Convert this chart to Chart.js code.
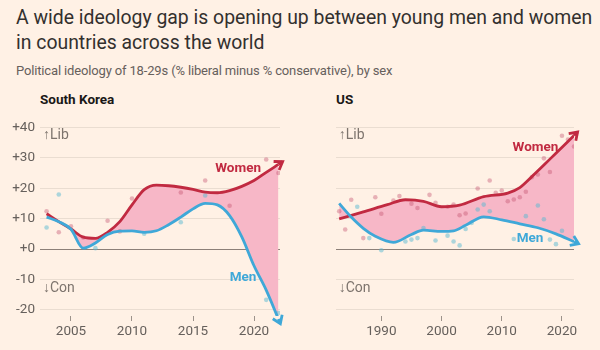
<!DOCTYPE html>
<html>
<head>
<meta charset="utf-8">
<script src="https://cdn.jsdelivr.net/npm/chart.js@4.4.1/dist/chart.umd.min.js"></script>
<style>
    body { margin: 0; background: #fff1e5; width: 600px; height: 350px; overflow: hidden; position: relative; font-family: Roboto, sans-serif; }
    .titulo { position: absolute; left: 16px; top: 5px; font-size: 19.4px; line-height: 25px; color: #33302e; white-space: nowrap; }
    .sub { position: absolute; left: 16px; top: 63px; font-size: 13px; letter-spacing: -0.15px; color: #66605c; white-space: nowrap; }
    .painel { position: absolute; top: 110px; width: 300px; height: 235px; }
    .nome { position: absolute; top: 91px; font-size: 13.5px; font-weight: bold; color: #1a1817; }
</style>
</head>
<body>
<div class="titulo">A wide ideology gap is opening up between young men and women<br>in countries across the world</div>
<div class="sub">Political ideology of 18-29s (% liberal minus % conservative), by sex</div>
<div class="nome" style="left:40px">South Korea</div>
<div class="nome" style="left:336px">US</div>
<div class="painel" style="left:0"><canvas id="graficoKr"></canvas></div>
<div class="painel" style="left:300px"><canvas id="graficoUs"></canvas></div>

<script>
// eixo y comum
const yTicks = [-20, -10, 0, 10, 20, 30, 40];

// Coreia do Sul
const krTicks = [2005, 2010, 2015, 2020];
const krLineYears = [2003, 2004, 2005, 2006, 2007, 2008, 2009, 2010, 2011, 2012, 2013, 2014, 2015, 2016, 2017, 2018, 2019, 2020, 2021, 2022];
const krWomenLine = [11.6, 9.0, 6.6, 3.9, 3.5, 5.5, 9.0, 14.5, 19.5, 21.0, 20.8, 20.3, 19.6, 18.7, 18.5, 19.2, 20.6, 22.5, 25.2, 27.8];
const krMenLine = [10.5, 9.0, 6.5, 0.3, 2.0, 4.8, 5.9, 6.0, 5.5, 6.0, 8.0, 10.5, 13.2, 15.0, 14.5, 11.0, 4.0, -5.5, -13.5, -23.0];
const krWomenDotYears = [2003, 2004, 2005, 2006, 2008, 2009, 2010, 2014, 2016, 2018, 2021, 2022];
const krWomenDots = [12.4, 5.5, 7.5, 3.8, 9.3, 5.8, 16.6, 18.6, 22.5, 14.2, 29.4, 25.0];
const krMenDotYears = [2003, 2004, 2007, 2011, 2014, 2016, 2021, 2022];
const krMenDots = [7.1, 17.9, 0.3, 5.0, 8.8, 17.6, -16.7, -21.0];

// EUA
const usTicks = [1990, 2000, 2010, 2020];
const usWomenLineYears = [1983, 1987, 1991, 1994, 1997, 2000, 2003, 2007, 2011, 2013, 2015, 2017, 2019, 2022];
const usWomenLine = [9.9, 12.2, 14.6, 16.2, 15.7, 13.9, 14.4, 17.2, 18.4, 20.2, 23.8, 27.6, 31.5, 37.3];
const usMenLineYears = [1983, 1985, 1987, 1989, 1992, 1995, 1997, 2000, 2002, 2004, 2007, 2010, 2013, 2016, 2019, 2022];
const usMenLine = [15.0, 10.5, 6.8, 4.2, 2.2, 4.8, 6.2, 5.8, 6.0, 7.8, 10.6, 9.6, 8.3, 7.0, 5.0, 2.4];
const usWomenDotYears = [1983, 1984, 1985, 1987, 1989, 1990, 1992, 1993, 1995, 1996, 1998, 1999, 2001, 2002, 2003, 2004, 2006, 2008, 2009, 2010, 2011, 2012, 2013, 2014, 2015, 2016, 2017, 2018, 2020, 2021, 2022];
const usWomenDots = [12.4, 6.4, 16.2, 3.6, 17.0, 11.6, 15.9, 17.4, 14.9, 13.5, 17.8, 15.2, 13.9, 14.6, 11.1, 11.7, 19.9, 22.5, 18.5, 19.2, 15.7, 16.3, 17.0, 18.8, 23.6, 24.5, 29.8, 25.3, 37.2, 36.0, 33.7];
const usMenDotYears = [1986, 1988, 1990, 1994, 1995, 1996, 1997, 1999, 2001, 2002, 2003, 2004, 2005, 2006, 2007, 2008, 2012, 2014, 2016, 2017, 2018, 2019, 2020];
const usMenDots = [13.9, 3.6, -0.4, 2.5, 3.1, 3.6, 6.9, 2.8, 4.4, 2.5, 1.2, 6.6, 8.6, 13.0, 14.6, 12.4, 3.3, 10.8, 14.3, 9.8, 3.1, 1.6, 6.0];

const VERMELHO = '#c12a41';
const AZUL = '#3fa8d8';
const ROSA = '#f7b7c7';
const CINZA = '#7d746d';

const pares = (xs, ys) => xs.map((x, i) => ({ x: x, y: ys[i] }));

// seta no fim das linhas
const setas = {
    id: 'setas',
    afterDatasetsDraw(chart) {
        const ctx = chart.ctx;
        chart.data.datasets.forEach((ds, i) => {
            if (!ds.seta) return;
            const pts = chart.getDatasetMeta(i).data;
            const ult = pts[pts.length - 1];
            let cx = ult.cp1x, cy = ult.cp1y;
            if (cx === undefined || (Math.abs(cx - ult.x) < 0.5 && Math.abs(cy - ult.y) < 0.5)) {
                cx = pts[pts.length - 2].x; cy = pts[pts.length - 2].y;
            }
            const a = Math.atan2(ult.y - cy, ult.x - cx);
            const tx = ult.x + 5 * Math.cos(a), ty = ult.y + 5 * Math.sin(a);
            ctx.save();
            ctx.strokeStyle = ds.borderColor;
            ctx.lineWidth = 2.8;
            ctx.lineJoin = 'miter';
            ctx.beginPath();
            ctx.moveTo(ult.x, ult.y);
            ctx.lineTo(tx, ty);
            ctx.stroke();
            ctx.beginPath();
            ctx.moveTo(tx - 9 * Math.cos(a - 0.6), ty - 9 * Math.sin(a - 0.6));
            ctx.lineTo(tx, ty);
            ctx.lineTo(tx - 9 * Math.cos(a + 0.6), ty - 9 * Math.sin(a + 0.6));
            ctx.stroke();
            ctx.restore();
        });
    }
};

// rótulos Women/Men e Lib/Con
const rotulos = {
    id: 'rotulos',
    afterDatasetsDraw(chart, args, opts) {
        const ctx = chart.ctx;
        const sx = chart.scales.x, sy = chart.scales.y;
        ctx.save();
        ctx.textBaseline = 'middle';
        (opts.itens || []).forEach(r => {
            ctx.font = 'bold 13.5px Roboto, sans-serif';
            ctx.fillStyle = r.cor;
            ctx.textAlign = 'center';
            ctx.fillText(r.texto, sx.getPixelForValue(r.x), sy.getPixelForValue(r.y));
        });
        ctx.font = '14px Roboto, sans-serif';
        ctx.fillStyle = CINZA;
        ctx.textAlign = 'left';
        ctx.fillText('↑Lib', chart.chartArea.left + 3, sy.getPixelForValue(37.3));
        ctx.fillText('↓Con', chart.chartArea.left + 3, sy.getPixelForValue(-12.9));
        ctx.restore();
    }
};

function criarGrafico(id, cfg) {
    const ctx = document.getElementById(id).getContext('2d');
    return new Chart(ctx, {
        type: 'line',
        data: {
            datasets: [
                { data: pares(cfg.womenYears, cfg.women), borderColor: VERMELHO, borderWidth: 2.8, pointRadius: 0,
                  cubicInterpolationMode: 'monotone', fill: { target: 1, above: ROSA, below: ROSA }, seta: true, order: 1 },
                { data: pares(cfg.menYears, cfg.men), borderColor: AZUL, borderWidth: 2.8, pointRadius: 0,
                  cubicInterpolationMode: 'monotone', fill: false, seta: true, order: 0 },
                { data: pares(cfg.womenDotYears, cfg.womenDots), showLine: false, pointRadius: 2.3, pointBorderWidth: 0,
                  pointBackgroundColor: 'rgba(196,80,110,0.4)', order: 3 },
                { data: pares(cfg.menDotYears, cfg.menDots), showLine: false, pointRadius: 2.3, pointBorderWidth: 0,
                  pointBackgroundColor: 'rgba(90,185,210,0.5)', order: 3 }
            ]
        },
        options: {
            responsive: false,
            animation: false,
            devicePixelRatio: 1,
            layout: { padding: { top: 17.3, right: cfg.direita, left: 0, bottom: 0 } },
            plugins: {
                legend: { display: false },
                tooltip: { enabled: false },
                filler: { drawTime: 'beforeDatasetsDraw' },
                rotulos: { itens: cfg.rotulos }
            },
            scales: {
                x: {
                    type: 'linear', min: cfg.xMin, max: cfg.xMax,
                    afterBuildTicks: s => { s.ticks = cfg.ticks.map(v => ({ value: v })); },
                    afterFit: s => { s.height = 29; },
                    grid: { drawOnChartArea: false, drawTicks: true, tickLength: 5, color: '#9c928a' },
                    border: { display: false },
                    ticks: { color: '#66605c', padding: 3, font: { family: 'Roboto', size: 13.5 }, callback: v => String(v) }
                },
                y: {
                    min: -22, max: 40,
                    afterBuildTicks: s => { s.ticks = yTicks.map(v => ({ value: v })); },
                    afterFit: s => { s.width = cfg.esquerda; },
                    grid: { drawTicks: false, color: c => c.tick.value === 0 ? '#8c8078' : '#eaddd1' },
                    border: { display: false },
                    ticks: { display: cfg.rotY, color: '#66605c', padding: 5, font: { family: 'Roboto', size: 13.5 },
                             callback: v => (v >= 0 ? '+' : '') + v }
                }
            }
        },
        plugins: [setas, rotulos]
    });
}

document.getElementById('graficoKr').width = 300;
document.getElementById('graficoKr').height = 235;
document.getElementById('graficoUs').width = 300;
document.getElementById('graficoUs').height = 235;

criarGrafico('graficoKr', {
    womenYears: krLineYears, women: krWomenLine, menYears: krLineYears, men: krMenLine,
    womenDotYears: krWomenDotYears, womenDots: krWomenDots, menDotYears: krMenDotYears, menDots: krMenDots,
    ticks: krTicks, xMin: 2002.46, xMax: 2022.13, esquerda: 40, direita: 20, rotY: true,
    rotulos: [{ texto: 'Women', x: 2018.7, y: 26.5, cor: VERMELHO }, { texto: 'Men', x: 2019.1, y: -9.5, cor: AZUL }]
});

criarGrafico('graficoUs', {
    womenYears: usWomenLineYears, women: usWomenLine, menYears: usMenLineYears, men: usMenLine,
    womenDotYears: usWomenDotYears, womenDots: usWomenDots, menDotYears: usMenDotYears, menDots: usMenDots,
    ticks: usTicks, xMin: 1982.42, xMax: 2022.0, esquerda: 35.7, direita: 26, rotY: false,
    rotulos: [{ texto: 'Women', x: 2015.6, y: 33.4, cor: VERMELHO }, { texto: 'Men', x: 2014.7, y: 3.4, cor: AZUL }]
});
</script>
</body>
</html>
